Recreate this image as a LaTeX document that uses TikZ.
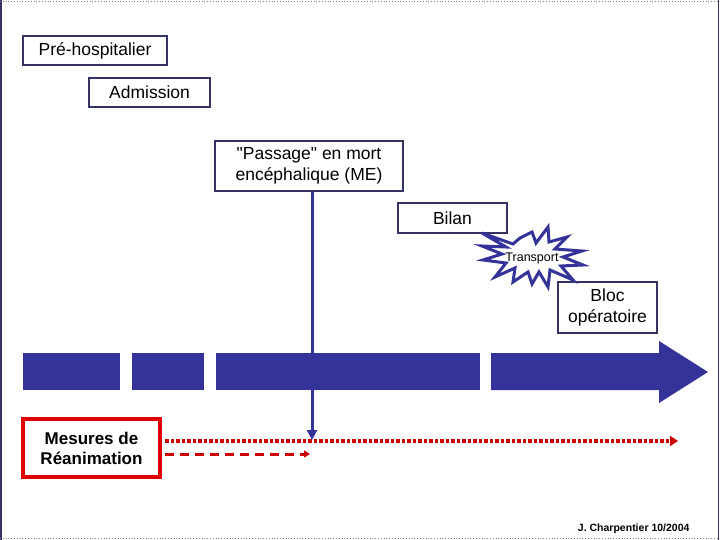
\documentclass[tikz,border=0pt]{standalone}
\usepackage{fontspec}
\setmainfont{Liberation Sans}[Ligatures=TeXOff]
\usetikzlibrary{arrows.meta}
\definecolor{navy}{HTML}{333366}
\definecolor{barblue}{HTML}{333399}
\definecolor{rred}{HTML}{E00000}
\definecolor{dred}{HTML}{CC2020}
\tikzset{>=Triangle,every node/.style={font=\fontsize{17.5}{20.5}\selectfont},
  etape/.style={draw=navy,line width=1.6pt,fill=white,inner sep=0pt,align=center},
  bar/.style={fill=barblue},
  suivi/.style={red!80!black,line width=3pt}}

\begin{document}
\begin{tikzpicture}[x=1pt,y=-1pt]
\useasboundingbox (0,0) rectangle (720,540);
% cadre
\draw[navy,line width=1.5pt] (1,0)--(1,540) (718.5,0)--(718.5,540);
\draw[gray,dotted,line width=.8pt] (0,1)--(720,1) (0,538.5)--(720,538.5);
% frise
\fill[bar] (23,353) rectangle (120,390);
\fill[bar] (132,353) rectangle (204,390);
\fill[bar] (216,353) rectangle (480,390);
\fill[bar] (491,353)--(659,353)--(659,341)--(708,372)--(659,403)--(659,390)--(491,390)--cycle;
% etapes
\node[etape,minimum width=144,minimum height=29] (pre) at (95,50.5){Pré-hospitalier};
\node[etape,minimum width=121,minimum height=29] (adm) at (149.5,92.5){Admission};
\node[etape,minimum width=188,minimum height=50] (me) at (309,166){"Passage" en mort\\encéphalique (ME)};
\node[etape,minimum width=109,minimum height=30] (bilan) at (452.5,218){Bilan};
\node[etape,minimum width=99,minimum height=51] (bloc) at (607.5,307.5){Bloc\\opératoire};
\draw[barblue,line width=3pt,fill=white,line join=miter]
  (482,233)--(513,244)--(520,238)--(532,232)--(536,243)--(548,227)--(549,242)--(567,237)--(555,249)
  --(582,251)--(563,257)--(583,265)--(561,266)--(573,280)--(550,270)--(548,287)--(539,272)
  --(532,284)--(528,272)--(513,282)--(515,268)--(495,277)--(506,263)--(483,260)--(502,254)
  --(482,246)--(506,247)--cycle;
\node[font=\fontsize{12.5}{14}\selectfont,inner sep=0pt] (transport) at (532,258){Transport};
% mesures de reanimation
\node[draw=rred,line width=4pt,fill=white,align=center,minimum width=137,minimum height=58,inner sep=0pt,
  font=\fontsize{17}{20}\selectfont\bfseries] (rea) at (91.5,448){Mesures de\\Réanimation};
\coordinate (fin) at (678,441);
\coordinate (me bas) at (312,440);
\coordinate (fin tiret) at (310,454);
\draw[suivi,line width=3.5pt,dotted,-{Triangle[length=8pt,width=10pt]}] ([yshift=7pt]rea.east)++(3,0)--(fin);
\draw[suivi,line width=3pt,dash pattern=on 9pt off 6pt,-{Triangle[length=6pt,width=7pt]}] ([yshift=-6pt]rea.east)++(3,0)--(fin tiret);
\draw[barblue,line width=3pt,-{Triangle[length=10pt,width=10pt]}] (me.south-|me bas)--(me bas);
\node[font=\fontsize{10.5}{12}\selectfont\bfseries,anchor=east] (auteur) at (693,529){J. Charpentier 10/2004};
\end{tikzpicture}
\end{document}
